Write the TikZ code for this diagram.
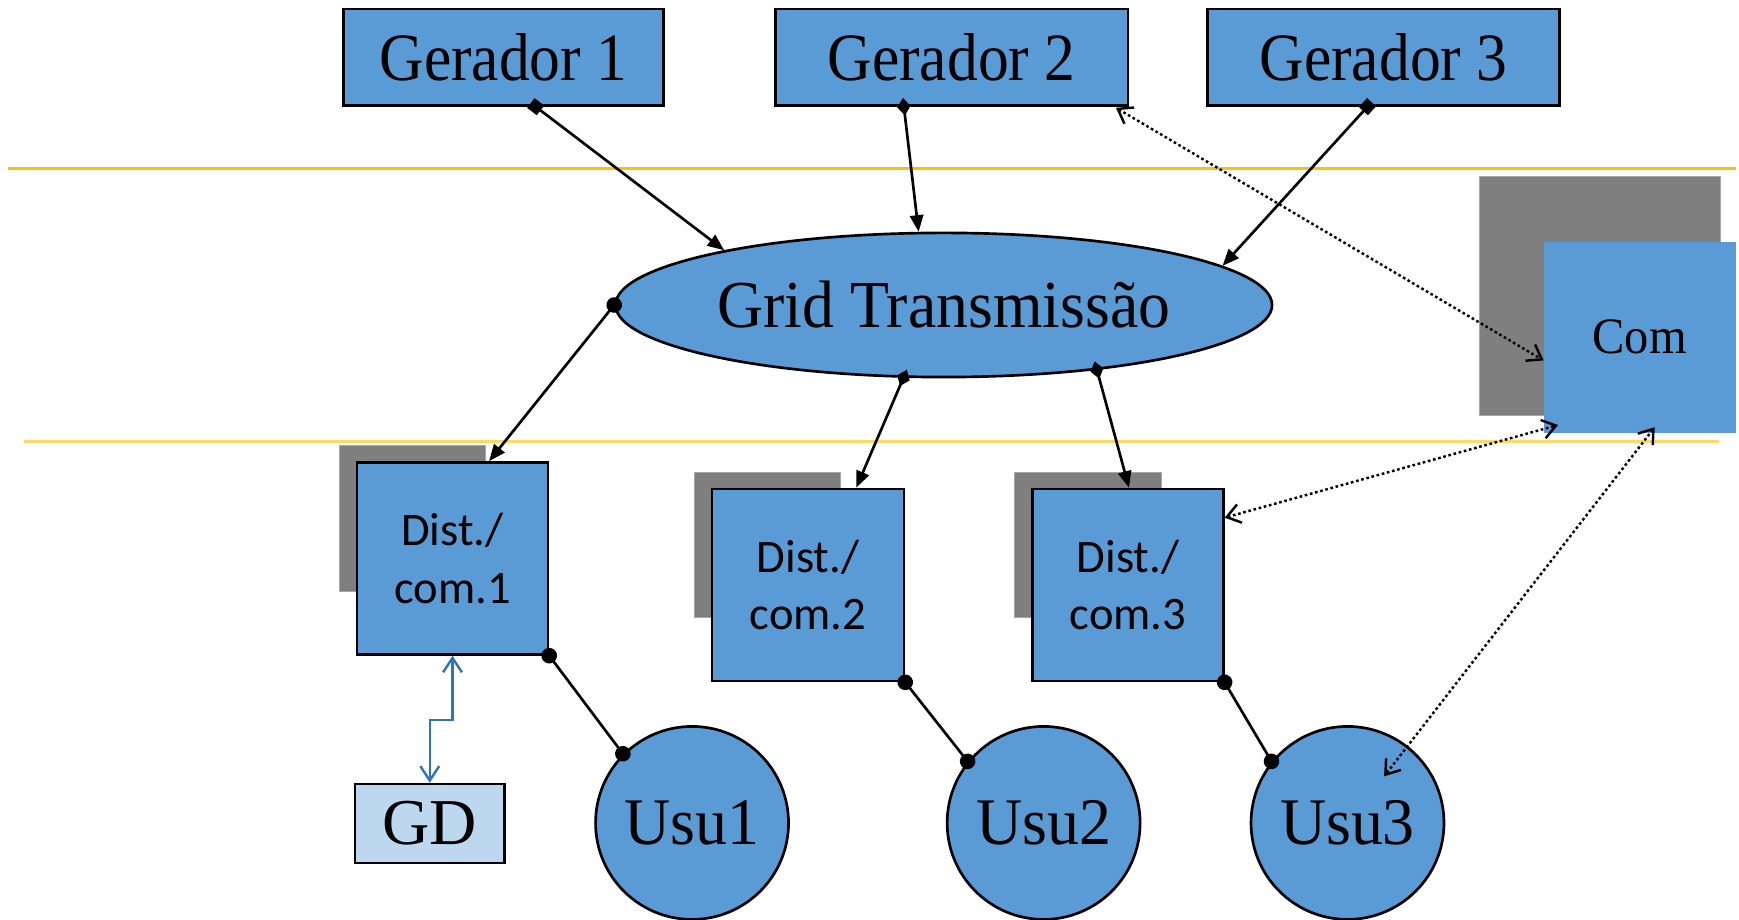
\documentclass[tikz,border=0pt]{standalone}
\usepackage{fontspec}
\usepackage{graphicx}
\newfontfamily\timesfont{Liberation Serif}
\newfontfamily\calfont{Carlito}
\usetikzlibrary{arrows.meta,shapes.geometric,calc}
\definecolor{nodeblue}{HTML}{5B9BD5}
\definecolor{gdblue}{HTML}{BDD7EE}
\definecolor{linkblue}{HTML}{2E75B6}
\definecolor{tierone}{HTML}{FFC000}
\definecolor{tiertwo}{HTML}{FFD966}
\definecolor{shade}{HTML}{7F7F7F}
\definecolor{shadeedge}{HTML}{A6A6A6}
% horizontally narrowed label text
\newcommand{\narrowtext}[2]{\scalebox{#1}[1]{#2}}

\begin{document}
\begin{tikzpicture}[x=1pt,y=-1pt,
  box/.style={draw=black,line width=2.4pt,fill=nodeblue,inner sep=0pt},
  gen/.style={box,minimum height=87pt,font=\timesfont\fontsize{61}{64}\selectfont},
  distbox/.style={box,minimum width=172pt,minimum height=173pt,align=center,
                  font=\calfont\fontsize{42}{52}\selectfont},
  backsq/.style={fill=shade,draw=shadeedge,line width=1pt,inner sep=0pt},
  user/.style={box,circle,minimum size=174pt,font=\timesfont\fontsize{60}{64}\selectfont},
  sep/.style={line width=2pt},
  feed/.style={line width=2.4pt},
  sqtail/.style={feed,{Square[length=11pt,width=11pt]}-{Triangle[length=15pt,width=12pt]},shorten <=-5.5pt},
  dmtail/.style={feed,{Diamond[length=16pt,width=12pt]}-{Triangle[length=15pt,width=12pt]},shorten <=-8pt},
  cltail/.style={feed,{Circle[length=14pt]}-{Triangle[length=15pt,width=12pt]},shorten <=-7pt},
  dotlink/.style={feed,{Circle[length=14pt]}-{Circle[length=14pt]},shorten <=-7pt,shorten >=-7pt},
  comm/.style={line width=2.2pt,dash pattern=on 2.4pt off 2.4pt,
               {Straight Barb[length=12pt,width=17pt]}-{Straight Barb[length=12pt,width=17pt]}},
  gdlink/.style={draw=linkblue,line width=2.2pt,
               {Straight Barb[length=13pt,width=17pt]}-{Straight Barb[length=13pt,width=17pt]}}
]
\useasboundingbox (0,0) rectangle (1568,829);

% level separators
\draw[sep,tierone] (7,152) -- (1565,152);
\draw[sep,tiertwo] (22,398) -- (1550,398);

% generators
\node[gen,minimum width=288pt] (g1) at (454,51.5) {\narrowtext{0.91}{Gerador 1}};
\node[gen,minimum width=318pt] (g2) at (858,51.5) {\narrowtext{0.91}{Gerador 2}};
\node[gen,minimum width=317pt] (g3) at (1247.5,51.5) {\narrowtext{0.91}{Gerador 3}};

% transmission grid
\node[box,ellipse,minimum width=592pt,minimum height=130pt,
      font=\timesfont\fontsize{60.5}{64}\selectfont] (grid) at (851,275)
      {\narrowtext{0.95}{Grid Transmissão}};

% communication block
\node[backsq,minimum width=217pt,minimum height=216pt] (comsh) at (1442.5,267) {};
\node[fill=nodeblue,inner sep=0pt,minimum width=173pt,minimum height=172pt,
      font=\timesfont\fontsize{46}{50}\selectfont] (com) at (1478.5,304)
      {\narrowtext{0.95}{Com}};

% distribution / communication units
\node[backsq,minimum width=132pt,minimum height=131pt] (d1sh) at (372,467.5) {};
\node[distbox] (d1) at (408,503.5) {Dist./\\com.1};
\node[backsq,minimum width=132pt,minimum height=131pt] (d2sh) at (692,491.5) {};
\node[distbox,minimum width=173pt] (d2) at (728.5,527.5) {Dist./\\com.2};
\node[backsq,minimum width=132pt,minimum height=131pt] (d3sh) at (981,491.5) {};
\node[distbox] (d3) at (1017,527.5) {Dist./\\com.3};

% distributed generation
\node[box,fill=gdblue,minimum width=135pt,minimum height=71pt,
      font=\timesfont\fontsize{59}{62}\selectfont] (gd) at (387.5,742.5) {GD};

% users
\node[user] (u1) at (624,742) {\narrowtext{0.96}{Usu1}};
\node[user] (u2) at (941,742) {\narrowtext{0.96}{Usu2}};
\node[user] (u3) at (1215,742) {\narrowtext{0.96}{Usu3}};

% generation to transmission
\draw[sqtail] ([xshift=29pt]g1.south) -- (grid.166);
\draw[dmtail] ([xshift=-43pt]g2.south) -- (grid.109);
\draw[sqtail] ([xshift=-14.5pt]g3.south) -- (grid.8);

% transmission to distribution
\draw[cltail] (grid.west) -- ([xshift=33pt]d1.north);
\draw[dmtail] (grid.241) -- ([xshift=43.5pt]d2.north);
\draw[dmtail] (grid.337) -- ([xshift=1pt]d3.north);

% distribution to users
\draw[dotlink] (d1.south east) -- (u1.135);
\draw[dotlink] (d2.south east) -- (u2.141);
\draw[dotlink] (d3.south east) -- (u3.141);

% communication links
\draw[comm] ([shift={(-12,1)}]g2.south east) -- ([shift={(0,21)}]com.west);
\draw[comm] ([shift={(0,27)}]d3.north east) -- ([shift={(13,-7)}]com.south west);
\draw[comm] ([shift={(13.5,-5)}]com.south) -- ([shift={(33,-42)}]u3.center);

% distributed generation link
\draw[gdlink] (d1.south) -- ++(0,58) -| (gd.north);
\end{tikzpicture}
\end{document}
